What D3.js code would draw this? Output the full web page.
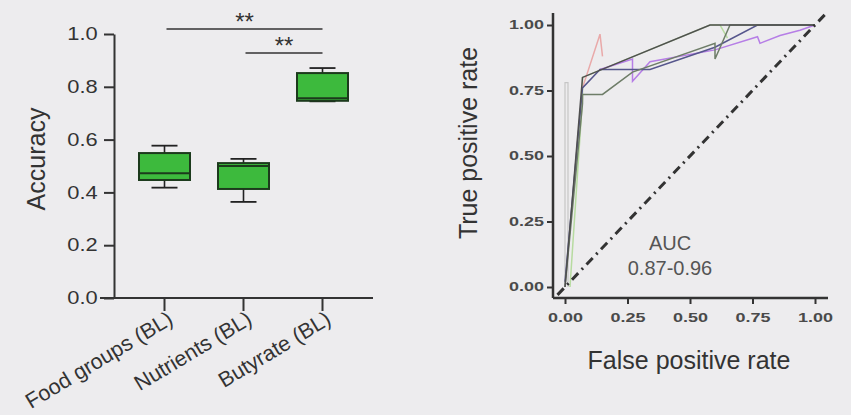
<!DOCTYPE html>
<html><head><meta charset="utf-8">
<script src="https://cdn.jsdelivr.net/npm/d3@7"></script>
<style>
html,body{margin:0;padding:0;background:#edecee;}
svg{display:block;font-family:"Liberation Sans",Arial,sans-serif;}
</style></head>
<body><svg id="c" width="851" height="415"></svg>
<script>
// ---------- data ----------
const categories = ["Food groups (BL)", "Nutrients (BL)", "Butyrate (BL)"];
const boxMin    = [0.418, 0.364, 0.745];
const boxQ1     = [0.447, 0.413, 0.747];
const boxMedian = [0.473, 0.500, 0.757];
const boxQ3     = [0.549, 0.511, 0.852];
const boxMax    = [0.577, 0.527, 0.871];
const accTicks = [0, 0.2, 0.4, 0.6, 0.8, 1.0];
const sigPairs = [[0, 2, "**"], [1, 2, "**"]];
const sigLevels = [1.019, 0.928];

const rocTicks = [0, 0.25, 0.5, 0.75, 1.0];
const roc1X = [0, 0.07, 0.58, 1.0];
const roc1Y = [0, 0.80, 1.0, 1.0];
const roc2X = [0, 0.07, 0.07, 0.15, 0.27, 0.60, 0.60, 0.66, 1.0];
const roc2Y = [0, 0.70, 0.735, 0.735, 0.82, 0.93, 0.87, 1.0, 1.0];
const roc3X = [0, 0.07, 0.14, 0.34, 0.60, 0.77, 1.0];
const roc3Y = [0.02, 0.76, 0.83, 0.83, 0.915, 1.0, 1.0];
const roc4X = [0.14, 0.27, 0.27, 0.34, 0.60, 0.77, 0.78, 0.86, 0.94, 1.0];
const roc4Y = [0.83, 0.87, 0.785, 0.86, 0.905, 0.955, 0.93, 0.96, 0.98, 1.0];
const roc5X = [0.07, 0.14, 0.15];
const roc5Y = [0.76, 0.965, 0.88];
const roc6X = [0, 0, 0.012, 0.012];
const roc6Y = [0, 0.78, 0.78, 0.0];
const roc7X = [0.02, 0.07, 0.07, 0.58, 0.62, 0.65];
const roc7Y = [0.0, 0.72, 0.80, 1.0, 1.0, 0.95];
const rocColors = ["#4f4f4f", "#6e7d68", "#56568c", "#b67ee6", "#e9a9a9", "#c6c6c6", "#b7dba0"];
const diagX = [-0.03, 1.045];
const aucLines = ["AUC", "0.87-0.96"];

// ---------- drawing ----------
const svg = d3.select("#c");
svg.append("rect").attr("width", 851).attr("height", 415).attr("fill", "#edecee");

// ===== Left panel: box plot =====
const yA = d3.scaleLinear().domain([0, 1]).range([298, 34]);
const xA = d3.scaleBand().domain(categories).range([125, 362]);
const left = svg.append("g");

const yAxisA = left.append("g").attr("transform", "translate(114,0)")
  .call(d3.axisLeft(yA).tickValues(accTicks).tickFormat(d3.format(".1f")).tickSize(10).tickPadding(3).tickSizeOuter(0));
yAxisA.select(".domain").attr("stroke", "#333").attr("stroke-width", 2);
yAxisA.selectAll(".tick line").attr("stroke", "#333").attr("stroke-width", 2);
yAxisA.selectAll(".tick text").attr("font-size", 17.5).attr("fill", "#333")
  .attr("font-family", "'Liberation Sans',Arial,sans-serif")
  .attr("transform", "scale(1.25,1)");

// x axis
left.append("line").attr("x1", 100).attr("x2", 373).attr("y1", yA(0)).attr("y2", yA(0))
  .attr("stroke", "#333").attr("stroke-width", 2);
const catC = c => xA(c) + xA.bandwidth() / 2;
left.selectAll(".ctick").data(categories).join("line")
  .attr("x1", catC).attr("x2", catC).attr("y1", yA(0)).attr("y2", yA(0) + 13)
  .attr("stroke", "#333").attr("stroke-width", 2);
left.selectAll(".clab").data(categories).join("text")
  .attr("transform", d => `translate(${catC(d) + 10},323) rotate(-31)`)
  .attr("text-anchor", "end").attr("font-size", 21.5).attr("fill", "#333").text(d => d);

left.append("text").attr("transform", "translate(45,159) rotate(-90)")
  .attr("text-anchor", "middle").attr("font-size", 25).attr("fill", "#333").text("Accuracy");

// boxes
const bw = 51, cw = 26;
categories.forEach((c, i) => {
  const cx = catC(c);
  const g = left.append("g");
  g.append("line").attr("x1", cx).attr("x2", cx).attr("y1", yA(boxMax[i])).attr("y2", yA(boxQ3[i]))
    .attr("stroke", "#222").attr("stroke-width", 1.6);
  g.append("line").attr("x1", cx).attr("x2", cx).attr("y1", yA(boxQ1[i])).attr("y2", yA(boxMin[i]))
    .attr("stroke", "#222").attr("stroke-width", 1.6);
  g.append("line").attr("x1", cx - cw / 2).attr("x2", cx + cw / 2).attr("y1", yA(boxMax[i])).attr("y2", yA(boxMax[i]))
    .attr("stroke", "#222").attr("stroke-width", 1.8);
  g.append("line").attr("x1", cx - cw / 2).attr("x2", cx + cw / 2).attr("y1", yA(boxMin[i])).attr("y2", yA(boxMin[i]))
    .attr("stroke", "#222").attr("stroke-width", 1.8);
  g.append("rect").attr("x", cx - bw / 2).attr("width", bw)
    .attr("y", yA(boxQ3[i])).attr("height", yA(boxQ1[i]) - yA(boxQ3[i]))
    .attr("fill", "#3dba3d").attr("stroke", "#1c3a1c").attr("stroke-width", 2);
  g.append("line").attr("x1", cx - bw / 2).attr("x2", cx + bw / 2).attr("y1", yA(boxMedian[i])).attr("y2", yA(boxMedian[i]))
    .attr("stroke", "#1c3a1c").attr("stroke-width", 2);
});

// significance
sigPairs.forEach((p, k) => {
  const x1 = catC(categories[p[0]]) + 2, x2 = catC(categories[p[1]]);
  const yy = yA(sigLevels[k]);
  left.append("line").attr("x1", x1).attr("x2", x2).attr("y1", yy).attr("y2", yy)
    .attr("stroke", "#333").attr("stroke-width", 1.6);
  left.append("text").attr("x", (x1 + x2) / 2).attr("y", yy + 1).attr("text-anchor", "middle")
    .attr("font-size", 24).attr("fill", "#333").text(p[2]);
});

// ===== Right panel: ROC =====
const xR = d3.scaleLinear().domain([0, 1]).range([565, 815]);
const yR = d3.scaleLinear().domain([0, 1]).range([287, 25]);
const right = svg.append("g");

const lineGen = d3.line().x(d => xR(d[0])).y(d => yR(d[1]));
const rocSets = [[roc7X, roc7Y], [roc6X, roc6Y], [roc5X, roc5Y], [roc4X, roc4Y], [roc3X, roc3Y], [roc2X, roc2Y], [roc1X, roc1Y]];
const rocCols = [rocColors[6], rocColors[5], rocColors[4], rocColors[3], rocColors[2], rocColors[1], rocColors[0]];
rocSets.forEach((s, i) => {
  right.append("path").datum(d3.zip(s[0], s[1])).attr("d", lineGen)
    .attr("fill", "none").attr("stroke", rocCols[i]).attr("stroke-width", i === 1 ? 1.2 : 1.5);
});

// diagonal
right.append("path").datum(diagX.map(v => [v, v])).attr("d", lineGen)
  .attr("fill", "none").attr("stroke", "#333").attr("stroke-width", 3)
  .attr("stroke-dasharray", "9,5,2,5");

// axes
right.append("line").attr("x1", 553).attr("x2", 553).attr("y1", 13).attr("y2", 298)
  .attr("stroke", "#333").attr("stroke-width", 2.5);
right.append("line").attr("x1", 553).attr("x2", 828).attr("y1", 298).attr("y2", 298)
  .attr("stroke", "#333").attr("stroke-width", 2.5);

const yAxisR = right.append("g").attr("transform", "translate(553,0)")
  .call(d3.axisLeft(yR).tickValues(rocTicks).tickFormat(d3.format(".2f")).tickSize(6).tickPadding(0));
yAxisR.select(".domain").remove();
yAxisR.selectAll(".tick line").attr("stroke", "#333").attr("stroke-width", 2);
yAxisR.selectAll(".tick text").attr("font-size", 12).attr("font-weight", "bold").attr("fill", "#4a4a4a")
  .attr("font-family", "'Liberation Sans',Arial,sans-serif")
  .attr("transform", "scale(1.5,1)");

const xAxisR = right.append("g").attr("transform", "translate(0,298)")
  .call(d3.axisBottom(xR).tickValues(rocTicks).tickFormat(d3.format(".2f")).tickSize(6).tickPadding(9));
xAxisR.select(".domain").remove();
xAxisR.selectAll(".tick line").attr("stroke", "#333").attr("stroke-width", 2);
xAxisR.selectAll(".tick text").attr("font-size", 12).attr("font-weight", "bold").attr("fill", "#4a4a4a")
  .attr("font-family", "'Liberation Sans',Arial,sans-serif")
  .attr("transform", "scale(1.5,1)");

right.append("text").attr("transform", "translate(477,143) rotate(-90)")
  .attr("text-anchor", "middle").attr("font-size", 25).attr("fill", "#333").text("True positive rate");
right.append("text").attr("x", 689).attr("y", 369)
  .attr("text-anchor", "middle").attr("font-size", 25).attr("fill", "#333").text("False positive rate");

right.selectAll(".auc").data(aucLines).join("text")
  .attr("x", 670).attr("y", (d, i) => 250 + i * 25)
  .attr("text-anchor", "middle").attr("font-size", 20).attr("fill", "#555").text(d => d);
</script></body></html>
